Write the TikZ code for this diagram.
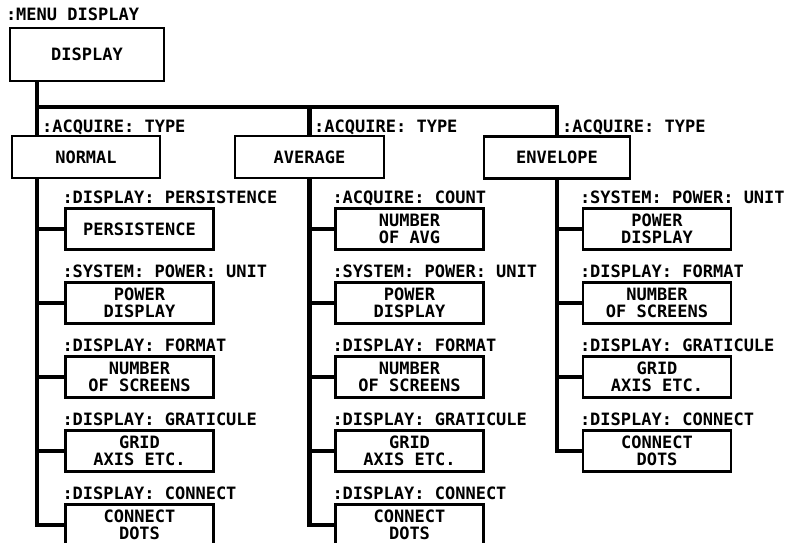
\documentclass[tikz,border=0pt]{standalone}
\usepackage{fontspec}
\setmonofont{DejaVu Sans Mono}

\tikzset{
  menubox/.style={draw, line width=2.4pt, minimum width=148pt, minimum height=41pt,
    inner sep=0pt, align=center, font=\ttfamily\bfseries\fontsize{17}{17.5}\selectfont},
  cmdlabel/.style={anchor=base west, inner sep=0pt, font=\ttfamily\bfseries\fontsize{17}{17}\selectfont},
  link/.style={line width=4.5pt},
}

\begin{document}
\begin{tikzpicture}[x=1pt,y=-1pt]
    \useasboundingbox (0,0) rectangle (792,543);

    % Top menu box
    \node[menubox, minimum width=154pt, minimum height=53pt] (disp) at (87,54.5) {DISPLAY};
    \node[cmdlabel] at ([xshift=-3pt,yshift=6pt]disp.north west) {:MENU DISPLAY};

    % Acquire types
    \node[menubox, minimum height=42pt] (normal) at (86,157) {NORMAL};
    \node[menubox, minimum width=149pt, minimum height=42pt] (average) at (309.5,157) {AVERAGE};
    \node[menubox, minimum width=146pt, minimum height=42pt] (envelope) at (557,157.5) {ENVELOPE};
    \node[cmdlabel] at (42,132) {:ACQUIRE: TYPE};
    \node[cmdlabel] at (314,132) {:ACQUIRE: TYPE};
    \node[cmdlabel] at (562,132) {:ACQUIRE: TYPE};

    % Bus from the menu box
    \coordinate (trunk) at (37,107);
    \draw[link] (trunk |- disp.south) -- (trunk) -| (envelope.north);
    \draw[link] (trunk) -- (trunk |- normal.north);
    \draw[link] (average.north) -- (average.north |- trunk);

    % Normal column
    \foreach \cmd/\txt [count=\k] in {{:DISPLAY: PERSISTENCE}/{PERSISTENCE},
        {:SYSTEM: POWER: UNIT}/{POWER\\DISPLAY}, {:DISPLAY: FORMAT}/{NUMBER\\OF SCREENS},
        {:DISPLAY: GRATICULE}/{GRID\\AXIS ETC.}, {:DISPLAY: CONNECT}/{CONNECT\\DOTS}} {
      \node[menubox] (n\k) at (139.5,155+74*\k) {\txt};
      \node[cmdlabel] at ([xshift=-2pt,yshift=4pt]n\k.north west) {\cmd};
    }
    \draw[link] (trunk |- normal.south) |- (n5.west);
    \foreach \k in {1,...,4}
      \draw[link] (trunk |- n\k.west) -- (n\k.west);

    % Average column
    \foreach \cmd/\txt [count=\k] in {{:ACQUIRE: COUNT}/{NUMBER\\OF AVG},
        {:SYSTEM: POWER: UNIT}/{POWER\\DISPLAY}, {:DISPLAY: FORMAT}/{NUMBER\\OF SCREENS},
        {:DISPLAY: GRATICULE}/{GRID\\AXIS ETC.}, {:DISPLAY: CONNECT}/{CONNECT\\DOTS}} {
      \node[menubox] (a\k) at (409.5,155+74*\k) {\txt};
      \node[cmdlabel] at ([xshift=-2pt,yshift=4pt]a\k.north west) {\cmd};
    }
    \draw[link] (average.south) |- (a5.west);
    \foreach \k in {1,...,4}
      \draw[link] (average.south |- a\k.west) -- (a\k.west);

    % Envelope column
    \foreach \cmd/\txt [count=\k] in {{:SYSTEM: POWER: UNIT}/{POWER\\DISPLAY},
        {:DISPLAY: FORMAT}/{NUMBER\\OF SCREENS}, {:DISPLAY: GRATICULE}/{GRID\\AXIS ETC.},
        {:DISPLAY: CONNECT}/{CONNECT\\DOTS}} {
      \node[menubox] (e\k) at (657,155+74*\k) {\txt};
      \node[cmdlabel] at ([xshift=-2pt,yshift=4pt]e\k.north west) {\cmd};
    }
    \draw[link] (envelope.south) |- (e4.west);
    \foreach \k in {1,...,3}
      \draw[link] (envelope.south |- e\k.west) -- (e\k.west);

\end{tikzpicture}
\end{document}
